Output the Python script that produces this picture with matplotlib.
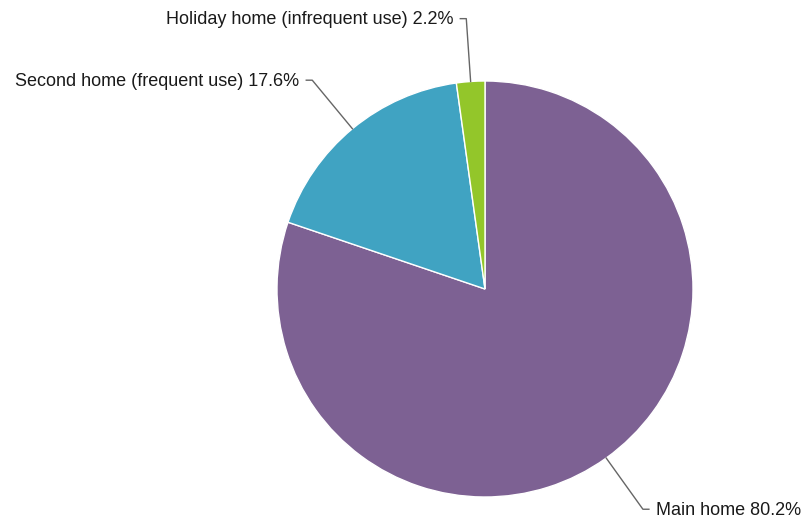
import numpy as np
import matplotlib
matplotlib.use("Agg")
import matplotlib.pyplot as plt

plt.rcParams['font.family'] = ['Liberation Sans', 'DejaVu Sans']

labels = ["Main home", "Second home (frequent use)", "Holiday home (infrequent use)"]
values = [80.2, 17.6, 2.2]
colors = ["#7d6193", "#40a3c2", "#93c62a"]

W, H = 803, 523
fig = plt.figure(figsize=(W / 100, H / 100), dpi=100)
ax = fig.add_axes([0, 0, 1, 1])

cx, cy, r = 485, H - 289, 208
wedges, _ = ax.pie(values, colors=colors, startangle=90, counterclock=False,
                   center=(cx, cy), radius=r, frame=True,
                   wedgeprops=dict(edgecolor='white', linewidth=1))
ax.set_xlim(0, W)
ax.set_ylim(0, H)
ax.set_aspect('equal')
ax.axis('off')

for w, lab, v in zip(wedges, labels, values):
    mid = np.deg2rad((w.theta1 + w.theta2) / 2)
    x0, y0 = cx + r * np.cos(mid), cy + r * np.sin(mid)
    x1, y1 = cx + (r + 63) * np.cos(mid), cy + (r + 63) * np.sin(mid)
    side = 1 if np.cos(mid) > 0 else -1
    x2 = x1 + side * 6
    ax.plot([x0, x1, x2], [y0, y1, y1], color='#666666', lw=1)
    ax.text(x2 + side * 7, y1 - 1, f"{lab} {v}%", ha='left' if side > 0 else 'right',
            va='center', fontsize=13, color='#1a1a1a')

fig.savefig("out.png", dpi=100)
